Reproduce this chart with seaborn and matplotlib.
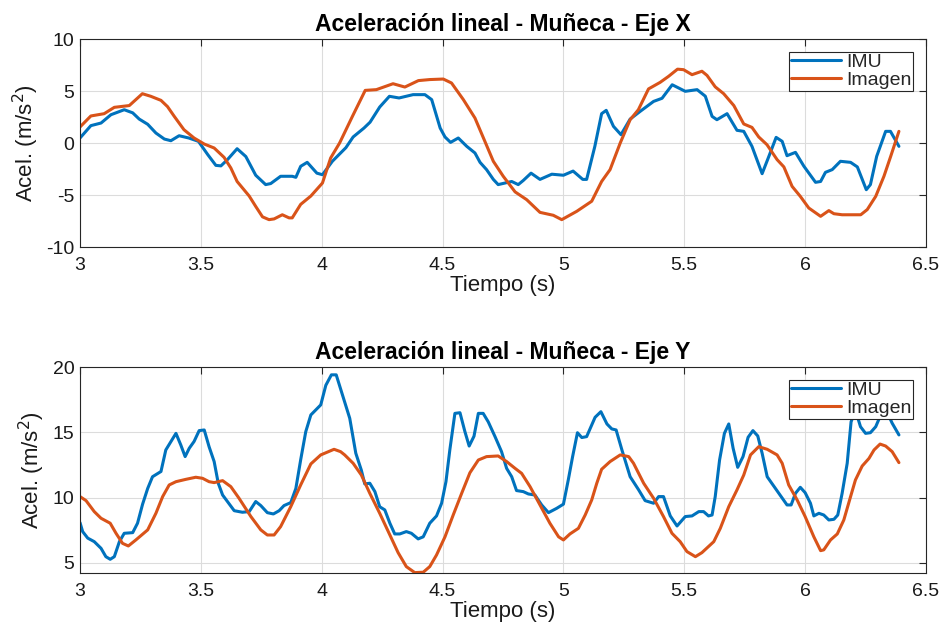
import numpy as np
import pandas as pd
import matplotlib
matplotlib.use("Agg")
import matplotlib.pyplot as plt
import seaborn as sns

# ---- Eje X: aceleración lineal de la muñeca ----
t_imu_x = [3.0, 3.045, 3.087, 3.128, 3.183, 3.218, 3.245, 3.28, 3.314, 3.349,
           3.376, 3.41, 3.45, 3.49, 3.528, 3.562, 3.583, 3.61, 3.65, 3.686,
           3.727, 3.768, 3.789, 3.83, 3.878, 3.893, 3.913, 3.94, 3.98, 4.003,
           4.044, 4.1, 4.13, 4.175, 4.2, 4.24, 4.28, 4.32, 4.378, 4.427,
           4.455, 4.49, 4.51, 4.533, 4.565, 4.6, 4.634, 4.655, 4.682, 4.71,
           4.73, 4.786, 4.813, 4.834, 4.866, 4.903, 4.952, 5.0, 5.04, 5.08,
           5.096, 5.13, 5.158, 5.177, 5.207, 5.238, 5.276, 5.318, 5.373, 5.408,
           5.45, 5.504, 5.553, 5.587, 5.615, 5.635, 5.677, 5.718, 5.746, 5.78,
           5.822, 5.85, 5.88, 5.905, 5.925, 5.96, 5.995, 6.043, 6.064, 6.084,
           6.112, 6.146, 6.188, 6.216, 6.253, 6.27, 6.296, 6.333, 6.353, 6.388]
imu_x = [0.48, 1.67, 1.92, 2.72, 3.2, 2.9, 2.3, 1.8, 0.96, 0.38,
         0.22, 0.7, 0.48, 0.16, -1.1, -2.15, -2.2, -1.6, -0.55, -1.3,
         -3.1, -4.0, -3.9, -3.2, -3.2, -3.3, -2.24, -1.86, -2.9, -3.05,
         -1.76, -0.45, 0.58, 1.44, 2.0, 3.46, 4.49, 4.33, 4.65, 4.65,
         4.17, 1.44, 0.58, 0.06, 0.48, -0.32, -0.96, -1.86, -2.56, -3.5,
         -4.0, -3.7, -4.0, -3.6, -2.9, -3.5, -3.0, -3.1, -2.7, -3.5,
         -3.5, -0.32, 2.82, 3.14, 1.6, 0.8, 2.3, 3.05, 4.0, 4.3,
         5.6, 4.97, 5.13, 4.5, 2.56, 2.24, 2.82, 1.22, 1.12, -0.32,
         -2.95, -1.28, 0.54, 0.16, -1.22, -0.9, -2.24, -3.78, -3.7, -2.82,
         -2.56, -1.76, -1.86, -2.3, -4.49, -4.0, -1.28, 1.12, 1.12, -0.32]

t_img_x = [3.0, 3.045, 3.1, 3.142, 3.204, 3.258, 3.293, 3.335, 3.362, 3.39,
           3.43, 3.472, 3.514, 3.555, 3.596, 3.624, 3.65, 3.7, 3.727, 3.755,
           3.782, 3.803, 3.837, 3.865, 3.878, 3.913, 3.955, 4.003, 4.037, 4.074,
           4.127, 4.18, 4.226, 4.295, 4.344, 4.4, 4.447, 4.503, 4.537, 4.586,
           4.634, 4.675, 4.71, 4.751, 4.8, 4.848, 4.903, 4.958, 4.993, 5.055,
           5.117, 5.158, 5.193, 5.235, 5.276, 5.31, 5.352, 5.4, 5.435, 5.472,
           5.497, 5.532, 5.573, 5.594, 5.628, 5.663, 5.705, 5.746, 5.78, 5.808,
           5.842, 5.884, 5.912, 5.946, 5.98, 6.015, 6.064, 6.098, 6.119, 6.153,
           6.23, 6.257, 6.292, 6.326, 6.354, 6.388]
img_x = [1.54, 2.6, 2.82, 3.43, 3.6, 4.74, 4.49, 4.1, 3.5, 2.56,
         1.28, 0.48, -0.1, -0.48, -1.38, -2.4, -3.7, -5.1, -6.1, -7.1,
         -7.37, -7.3, -6.9, -7.2, -7.2, -5.9, -5.1, -3.85, -1.44, 0.0,
         2.56, 5.06, 5.13, 5.7, 5.38, 6.0, 6.1, 6.15, 5.77, 4.17,
         2.4, 0.16, -1.76, -3.2, -4.7, -5.45, -6.67, -6.95, -7.37, -6.57,
         -5.6, -3.7, -2.56, 0.0, 2.24, 3.2, 5.2, 5.83, 6.41, 7.1,
         7.05, 6.57, 6.9, 6.5, 5.4, 4.74, 3.6, 1.83, 1.5, 0.58,
         -0.16, -1.6, -2.3, -4.17, -5.13, -6.25, -7.05, -6.5, -6.8, -6.9,
         -6.9, -6.4, -5.13, -3.2, -1.28, 1.12]

# ---- Eje Y: aceleración lineal de la muñeca ----
t_imu_y = [3.0, 3.011, 3.032, 3.059, 3.087, 3.107, 3.125, 3.142, 3.163, 3.183,
           3.218, 3.238, 3.259, 3.28, 3.3, 3.335, 3.355, 3.376, 3.397, 3.417,
           3.435, 3.452, 3.472, 3.493, 3.514, 3.534, 3.555, 3.572, 3.59, 3.61,
           3.638, 3.672, 3.7, 3.727, 3.748, 3.775, 3.8, 3.824, 3.844, 3.872,
           3.893, 3.913, 3.934, 3.955, 3.996, 4.017, 4.04, 4.06, 4.088, 4.116,
           4.141, 4.164, 4.178, 4.199, 4.22, 4.24, 4.261, 4.282, 4.302, 4.323,
           4.35, 4.371, 4.399, 4.42, 4.447, 4.475, 4.496, 4.514, 4.53, 4.551,
           4.572, 4.592, 4.61, 4.63, 4.648, 4.668, 4.689, 4.717, 4.744, 4.765,
           4.786, 4.806, 4.834, 4.855, 4.882, 4.91, 4.938, 4.972, 5.0, 5.02,
           5.038, 5.058, 5.076, 5.096, 5.131, 5.155, 5.18, 5.2, 5.218, 5.242,
           5.276, 5.311, 5.338, 5.373, 5.394, 5.414, 5.442, 5.47, 5.504, 5.532,
           5.56, 5.58, 5.6, 5.615, 5.628, 5.646, 5.666, 5.684, 5.702, 5.721,
           5.743, 5.764, 5.784, 5.804, 5.822, 5.843, 5.877, 5.905, 5.925, 5.942,
           5.96, 5.98, 6.0, 6.022, 6.036, 6.057, 6.077, 6.098, 6.119, 6.135,
           6.153, 6.174, 6.19, 6.208, 6.229, 6.25, 6.27, 6.292, 6.312, 6.34,
           6.36, 6.388]
imu_y = [8.09, 7.4, 6.9, 6.63, 6.12, 5.48, 5.28, 5.48, 6.63, 7.27,
         7.32, 8.04, 9.5, 10.7, 11.6, 12.0, 13.65, 14.29, 14.92, 14.03,
         13.14, 13.78, 14.3, 15.13, 15.18, 13.9, 12.76, 11.1, 10.2, 9.7,
         9.0, 8.88, 8.93, 9.7, 9.39, 8.85, 8.75, 9.0, 9.39, 9.62,
         10.7, 12.9, 15.05, 16.33, 17.1, 18.6, 19.4, 19.4, 17.73, 16.07,
         13.4, 12.1, 11.05, 11.1, 10.46, 9.3, 9.06, 8.04, 7.22, 7.22,
         7.4, 7.27, 6.84, 7.0, 8.04, 8.6, 9.57, 11.22, 13.65, 16.45,
         16.5, 15.08, 13.95, 14.7, 16.45, 16.45, 15.8, 14.67, 13.52, 12.24,
         11.6, 10.54, 10.46, 10.28, 10.2, 9.44, 8.85, 9.18, 9.5, 11.35,
         13.14, 14.97, 14.6, 14.67, 16.15, 16.58, 15.64, 15.26, 15.18, 13.65,
         11.6, 10.6, 9.77, 9.57, 10.08, 10.08, 8.6, 7.83, 8.55, 8.6,
         8.93, 8.93, 8.6, 8.67, 10.08, 12.88, 14.92, 15.64, 13.78, 12.32,
         13.14, 14.62, 15.13, 14.72, 13.4, 11.6, 10.7, 9.95, 9.44, 9.44,
         10.33, 10.79, 10.38, 9.57, 8.6, 8.8, 8.67, 8.29, 8.34, 8.67,
         10.33, 12.63, 15.8, 16.7, 15.43, 14.92, 14.97, 15.43, 16.3, 16.5,
         15.7, 14.8]

t_img_y = [3.0, 3.025, 3.059, 3.087, 3.125, 3.149, 3.176, 3.2, 3.231, 3.28,
           3.314, 3.342, 3.369, 3.397, 3.438, 3.479, 3.507, 3.534, 3.555, 3.59,
           3.624, 3.658, 3.707, 3.748, 3.775, 3.803, 3.83, 3.872, 3.913, 3.955,
           3.996, 4.051, 4.078, 4.095, 4.13, 4.164, 4.199, 4.24, 4.282, 4.316,
           4.35, 4.385, 4.42, 4.447, 4.475, 4.51, 4.544, 4.579, 4.613, 4.648,
           4.682, 4.73, 4.765, 4.8, 4.827, 4.862, 4.903, 4.944, 4.98, 5.0,
           5.027, 5.062, 5.09, 5.117, 5.138, 5.158, 5.193, 5.235, 5.27, 5.29,
           5.332, 5.373, 5.414, 5.449, 5.483, 5.511, 5.546, 5.573, 5.622, 5.649,
           5.684, 5.718, 5.746, 5.774, 5.808, 5.843, 5.884, 5.905, 5.932, 5.967,
           6.0, 6.036, 6.064, 6.077, 6.105, 6.133, 6.16, 6.188, 6.208, 6.236,
           6.264, 6.285, 6.31, 6.333, 6.36, 6.388]
img_y = [10.08, 9.77, 8.93, 8.42, 8.04, 7.27, 6.5, 6.3, 6.76, 7.53,
         8.8, 10.08, 10.97, 11.22, 11.4, 11.56, 11.48, 11.22, 11.15, 11.3,
         10.84, 9.95, 8.55, 7.53, 7.14, 7.14, 7.78, 9.31, 10.97, 12.58,
         13.27, 13.7, 13.52, 13.27, 12.63, 11.73, 10.33, 8.8, 7.14, 5.79,
         4.72, 4.26, 4.29, 4.72, 5.61, 7.0, 8.67, 10.33, 11.9, 12.88,
         13.14, 13.19, 12.76, 12.24, 11.86, 10.84, 9.44, 8.04, 7.0, 6.76,
         7.22, 7.65, 8.67, 9.82, 11.1, 12.17, 12.76, 13.27, 13.14, 12.63,
         11.1, 9.95, 8.55, 7.27, 6.63, 5.87, 5.48, 5.79, 6.63, 7.65,
         9.31, 10.59, 11.73, 13.27, 13.9, 13.7, 13.27, 12.63, 10.97, 9.82,
         8.55, 7.0, 5.94, 6.0, 6.76, 7.22, 8.29, 10.08, 11.35, 12.42,
         13.0, 13.65, 14.1, 13.95, 13.52, 12.68]

series_names = ["IMU", "Imagen"]
x_ticks = [3, 3.5, 4, 4.5, 5, 5.5, 6, 6.5]
x_tick_labels = ["3", "3.5", "4", "4.5", "5", "5.5", "6", "6.5"]
yticks_top = [-10, -5, 0, 5, 10]
yticks_bottom = [5, 10, 15, 20]


def long_frame(t_a, v_a, t_b, v_b):
    return pd.concat([
        pd.DataFrame({"t": t_a, "acel": v_a, "serie": series_names[0]}),
        pd.DataFrame({"t": t_b, "acel": v_b, "serie": series_names[1]}),
    ], ignore_index=True)


df_x = long_frame(t_imu_x, imu_x, t_img_x, img_x)
df_y = long_frame(t_imu_y, imu_y, t_img_y, img_y)

sns.set_theme(style="white")
plt.rcParams["font.family"] = ["Liberation Sans", "DejaVu Sans"]
plt.rcParams["axes.unicode_minus"] = False

axis_gray = "#262626"
palette = {"IMU": "#0072BD", "Imagen": "#D95319"}

fig = plt.figure(figsize=(9.42, 6.32), dpi=100)
ax_top = fig.add_axes([80 / 942, (632 - 247) / 632, 846 / 942, 208 / 632])
ax_bot = fig.add_axes([80 / 942, (632 - 573) / 632, 846 / 942, 206 / 632])

panels = [
    (ax_top, df_x, "Aceleración lineal - Muñeca - Eje X", (-10, 10), yticks_top),
    (ax_bot, df_y, "Aceleración lineal - Muñeca - Eje Y", (4.23, 20), yticks_bottom),
]

for ax, df, title, ylim, yticks in panels:
    sns.lineplot(data=df, x="t", y="acel", hue="serie", palette=palette,
                 estimator=None, linewidth=2.2, ax=ax)
    ax.set_xlim(3, 6.5)
    ax.set_ylim(*ylim)
    ax.set_xticks(x_ticks)
    ax.set_xticklabels(x_tick_labels)
    ax.set_yticks(yticks)
    ax.set_yticklabels([str(v) for v in yticks])
    ax.grid(True, color="#dcdcdc", linewidth=0.8)
    ax.set_axisbelow(True)
    for sp in ax.spines.values():
        sp.set_color(axis_gray)
        sp.set_linewidth(0.8)
    ax.tick_params(direction="in", length=5, width=0.8, colors=axis_gray,
                   labelcolor="#1a1a1a", labelsize=14, top=True, right=True,
                   pad=4)
    ax.tick_params(axis="x", pad=7)
    ax.set_title(title, fontsize=16.5, fontweight="bold", color="black", pad=6)
    ax.set_xlabel("Tiempo (s)", fontsize=16, color="#1a1a1a", labelpad=1)
    ax.set_ylabel("Acel. (m/s$^2$)", fontsize=16, color="#1a1a1a", labelpad=4)
    leg = ax.legend(loc="upper right", fontsize=14, frameon=True, fancybox=False,
                    handlelength=2.6, handletextpad=0.25, borderpad=0.1,
                    labelspacing=0.0, borderaxespad=0.65)
    leg.get_frame().set_edgecolor(axis_gray)
    leg.get_frame().set_linewidth(0.8)
    leg.get_frame().set_alpha(1.0)
    for line in leg.get_lines():
        line.set_linewidth(2.2)

fig.savefig("out.png", dpi=100, facecolor="white")
